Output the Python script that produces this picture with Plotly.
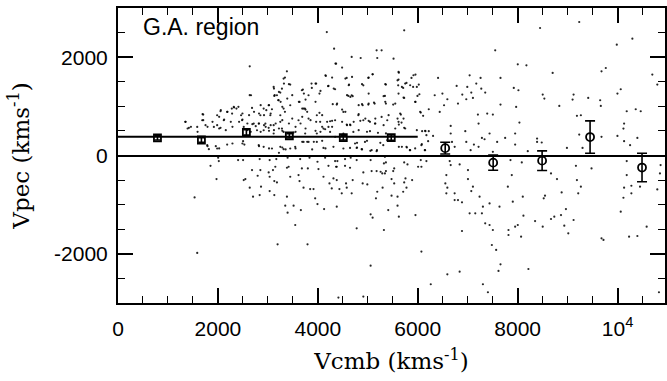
import plotly.graph_objects as go

# Binned means (squares: Vcmb < 6000; circles: Vcmb > 6000)
sq_vcmb = [790, 1670, 2570, 3430, 4510, 5470]
sq_vpec = [360, 315, 470, 400, 365, 365]
sq_err = [45, 45, 55, 45, 50, 55]

ci_vcmb = [6550, 7510, 8490, 9450, 10490]
ci_vpec = [150, -145, -105, 375, -245]
ci_err = [120, 155, 200, 330, 290]

# Mean infall line
line_vcmb = [0, 6000]
line_vpec = [380, 380]

# Individual galaxies (Vcmb, Vpec)
galaxies = [
    (4180, 2511), (4326, 2173), (4366, 1868), (4678, 2004), (4858, 1983), (5177, 2139), (5277, 2139),
    (5190, 1983), (2637, 1814), (3381, 1713), (4160, 1618), (5097, 1652), (5011, 1577), (4578, 1577),
    (5363, 1442), (4911, 1428), (4625, 1442), (4213, 1415), (4346, 1347), (3967, 1462), (3880, 1374),
    (3448, 1442), (3681, 1327), (3315, 1564), (3282, 1360), (3116, 1394), (3249, 1279), (3182, 1225),
    (3129, 1212), (3215, 1124), (2663, 1225), (3814, 1225), (4033, 1259), (4612, 1212), (4678, 1225),
    (5343, 1212), (4379, 1036), (4898, 1022), (5011, 1036), (5124, 1076), (5363, 1056), (3634, 1090),
    (3448, 1022), (3016, 1022), (2916, 954), (3082, 941), (3315, 954), (3249, 819), (3049, 819),
    (2850, 819), (2683, 968), (2318, 988), (2371, 954), (2185, 887), (2052, 900), (1985, 819),
    (1706, 833), (2284, 853), (2464, 819), (2484, 717), (2717, 650), (2817, 650), (2950, 650),
    (3016, 562), (3116, 616), (3249, 684), (3282, 548), (3614, 717), (3814, 751), (3714, 954),
    (3980, 819), (4047, 684), (4246, 697), (4346, 717), (4113, 548), (4213, 582), (4512, 887),
    (4579, 630), (4645, 630), (4811, 819), (4911, 717), (5044, 684), (5144, 650), (5277, 785),
    (5390, 717), (4712, 480), (5044, 494), (2118, 717), (1985, 616), (2052, 562), (1919, 582),
    (1752, 616), (1686, 717), (1420, 562), (1353, 684), (1586, 582), (2517, 582), (2584, 514),
    (2783, 514), (2916, 514), (3116, 447), (3315, 480), (3514, 467), (3747, 447), (3980, 447),
    (4147, 534), (4246, 480), (4512, 447), (4346, 379),
    (1786, 210), (1985, 142), (1819, 128), (2185, 223), (2504, 291), (2530, 223), (2817, 210),
    (2916, 176), (3082, 142), (3249, 176), (3315, 128), (3448, 142), (3547, 176), (3714, 277),
    (3814, 277), (3980, 277), (4113, 155), (4313, 176), (4512, 142), (4645, 155), (4745, 244),
    (4778, 155), (4878, 128), (4944, 277), (5077, 108), (5177, 88), (5310, 210), (5390, 311),
    (3342, 1585), (3322, 1463), (3422, 1450), (3122, 1361), (3222, 1294), (3209, 1125), (3255, 1091),
    (3136, 1226), (3289, 989), (3342, 888), (3488, 1226), (3388, 1158), (3621, 1091), (3721, 1260),
    (3741, 955), (3787, 888), (2637, 1226), (2856, 1023), (2969, 922), (3023, 1023), (3056, 854),
    (2923, 820), (2823, 854), (2723, 888), (2624, 820), (2491, 854), (2411, 989), (2324, 976),
    (2278, 955), (2191, 888), (2058, 922), (2025, 786), (2125, 732), (2258, 685), (2291, 583),
    (2424, 685), (2491, 732), (2590, 651), (2690, 637), (2757, 597), (2823, 651), (2923, 617),
    (2956, 583), (3056, 617), (3156, 651), (3122, 515), (3222, 549), (3289, 718), (3422, 651),
    (3488, 752), (3554, 583), (3654, 651), (3754, 549), (1693, 840), (1706, 718), (1892, 685),
    (1792, 583), (1393, 549), (1460, 583), (1347, 685), (1593, 481), (2025, 549), (2158, 515),
    (2657, 481), (2856, 481), (3023, 502), (3289, 502), (3554, 481),
    (1792, 190), (1958, 190), (2025, 143), (2291, 244), (2491, 244), (2823, 190), (3023, 143),
    (3289, 163), (3355, 123), (3554, 143), (3222, 55),
    (4353, 1869), (4486, 1788), (4153, 1632), (4286, 1585), (4552, 1565), (4685, 1598), (5018, 1585),
    (5097, 1653), (5616, 1700), (5915, 1632), (5616, 1544), (5749, 1463), (3874, 1463), (3954, 1463),
    (4206, 1409), (4319, 1362), (4619, 1429), (4885, 1450), (5350, 1450), (5683, 1395), (5849, 1429),
    (5982, 1395), (3701, 1341), (4053, 1314), (4585, 1226), (4652, 1192), (4698, 1206), (5018, 1260),
    (5317, 1206), (5616, 1260), (6033, 1246), (3754, 1138), (3954, 1091), (4299, 1043), (4386, 1057),
    (4818, 1023), (4885, 1043), (5018, 1057), (5138, 1057), (5350, 1091), (5550, 1057), (5716, 1179),
    (5949, 1091), (3688, 955), (3754, 935), (4033, 867), (4087, 820), (4486, 935), (4552, 888),
    (4818, 840), (4951, 752), (5151, 752), (5417, 820), (5649, 854), (6049, 888), (3688, 786),
    (3854, 718), (3967, 685), (4186, 685), (4286, 705), (4486, 685), (4718, 685), (4851, 705),
    (5018, 705), (5151, 651), (5317, 617), (5616, 685), (5716, 752), (4087, 583), (4286, 583),
    (4585, 617), (4652, 617), (4818, 515), (4985, 481), (5204, 461), (5364, 448), (5550, 549),
    (5749, 549), (5982, 515), (6148, 502), (3954, 502), (4053, 481),
    (3688, 278), (3787, 278), (3920, 278), (4087, 299), (4785, 258), (4985, 299), (5251, 258),
    (3887, 123), (4153, 143), (4785, 163), (4885, 123), (5051, 96), (5184, 109), (5683, 177),
    (5782, 163), (5849, 109), (5949, 143), (6148, 109), (6082, 231),
    (5729, 2545), (5516, 1970), (8449, 2593), (9233, 2715), (10297, 2376), (9985, 2254), (7551, 2139),
    (8003, 1855), (8176, 1834), (9765, 1780), (9679, 1713), (8701, 1679), (10696, 1645), (10796, 1442),
    (5622, 1685), (5596, 1530), (5875, 1577), (5955, 1645), (5775, 1476), (5609, 1428), (5709, 1374),
    (5908, 1394), (6021, 1442), (6407, 1577), (7039, 1631), (7258, 1577), (7657, 1577), (6779, 1415),
    (6992, 1394), (7172, 1462), (7272, 1360), (7923, 1374), (8016, 1327), (10064, 1347), (9998, 1259),
    (7072, 1279), (7351, 1279), (5729, 1171), (5995, 1212), (6340, 1225), (6494, 1259), (6892, 1239),
    (7105, 1171), (6972, 1144), (6806, 1056), (6593, 1144), (6527, 1022), (5955, 1090), (8502, 1239),
    (8535, 1157), (9120, 1239), (9100, 1137), (9413, 1171), (9652, 1124), (9665, 1009), (7657, 1036),
    (7970, 988), (8834, 1009), (5509, 1036), (6221, 941), (6440, 887), (6061, 873), (5662, 833),
    (6108, 806), (7205, 833), (7391, 853), (7504, 833), (10184, 900), (10364, 941), (10464, 900),
    (5596, 751), (5676, 670), (5622, 630), (9187, 806), (9266, 819), (10131, 650), (6660, 602),
    (7218, 650), (8036, 670), (5729, 562), (6088, 494), (6154, 494), (6221, 494), (10118, 548),
    (6174, 413), (6307, 399), (6660, 447), (6952, 494), (7438, 447), (7285, 358), (7338, 331),
    (7750, 358), (7950, 447), (7950, 223), (9233, 426), (9679, 379), (9998, 399), (10397, 358),
    (10131, 291), (10251, 210), (6208, 291), (6074, 210), (6686, 277), (6972, 277), (7125, 223),
    (7218, 176), (7590, 277), (8389, 345), (8389, 277), (8482, 264), (8203, 88), (8987, 155),
    (9299, 155), (5622, 176), (5775, 176), (5842, 108), (6141, 108), (6740, 176), (7059, 108),
    (7504, 74),
    (2005, -46), (2018, -114), (2404, -94), (2504, -94), (2836, -73), (3036, -94), (3169, -73),
    (3395, -46), (3647, -73), (3834, -46), (3993, -127), (4146, -46), (4346, -114), (4392, -114),
    (4545, -73), (4658, -46), (4778, -94), (5057, -94), (5343, -26), (5363, -141), (1852, -209),
    (1972, -479), (1533, -852), (1586, -1982), (2517, -500), (2550, -479), (2683, -297), (2850, -297),
    (3016, -344), (3102, -297), (3149, -229), (2796, -412), (3036, -432), (3129, -520), (3182, -547),
    (2637, -655), (2863, -635), (3036, -723), (3129, -804), (2703, -838), (2836, -804), (3415, -229),
    (3448, -432), (3614, -398), (3681, -263), (3800, -263), (4013, -276), (4213, -209), (4366, -229),
    (4545, -209), (4645, -249), (3634, -520), (3714, -655), (3847, -683), (3914, -683), (3382, -838),
    (3348, -1021), (3515, -1021), (3395, -1163), (3661, -1109), (3548, -1414), (3195, -1806),
    (3794, -1806), (3947, -872), (3993, -987), (4126, -1089), (4113, -432), (4233, -567), (4313, -466),
    (4379, -500), (4279, -669), (4432, -683), (4479, -770), (4565, -567), (4579, -655), (4678, -770),
    (4698, -500), (4898, -567), (4911, -344), (4991, -588), (5077, -317), (5177, -317), (5257, -330),
    (5290, -364), (5343, -364), (5363, -317), (4379, -1041), (4379, -229), (5190, -737), (5164, -872),
    (5297, -655), (5323, -161), (5410, -1109), (5057, -1197), (5097, -1265), (4778, -1481),
    (5323, -1515), (5057, -2240), (4412, -2890), (4911, -2869), (3382, -249),
    (5729, -141), (5795, -182), (5529, -263), (5509, -317), (5476, -479), (5529, -567), (5755, -466),
    (5729, -547), (5888, -500), (5775, -655), (5709, -737), (5476, -818), (5596, -838), (5596, -1021),
    (5622, -1244), (5955, -1211), (6008, -229), (6074, -229), (6061, -94), (6174, -114), (6640, -114),
    (6660, -195), (6839, -182), (7006, -297), (6573, -398), (6553, -567), (6593, -655), (6573, -770),
    (6739, -770), (6739, -906), (6806, -906), (6886, -953), (7006, -479), (7105, -635), (7072, -723),
    (7238, -838), (7305, -1041), (7438, -974), (7637, -1041), (7039, -1177), (7152, -1177),
    (7285, -1177), (7351, -1380), (7438, -1414), (7504, -1515), (6886, -1536), (7804, -635),
    (7883, -398), (7857, -94), (8083, -141), (7903, -940), (8103, -838), (8116, -1224), (7817, -1515),
    (7817, -1617), (7950, -1448), (8003, -1414), (8069, -1651), (8349, -1333), (8502, -1448),
    (8522, -872), (8548, -818), (8668, -364), (8788, -479), (8881, -750), (8668, -1292), (8734, -1244),
    (8868, -1211), (8967, -1089), (8934, -1427), (9120, -1312), (9014, -1583), (9167, -209),
    (9187, -500), (9266, -635), (9213, -770), (9479, -263), (9679, -1685), (9718, -1718),
    (10064, -1143), (10118, -859), (10131, -655), (10184, -398), (10184, -114), (10277, -615),
    (10277, -770), (10450, -635), (10231, -1651), (10397, -1637), (10583, -1448), (10796, -689),
    (10849, -364), (10862, -195), (6074, -1955), (6593, -2416), (6839, -2362), (6261, -2619),
    (7484, -1820), (7570, -1921), (7657, -2213), (7617, -2348), (8216, -2308), (7305, -2619),
    (7405, -2781), (10829, -2781),
]
gal_vcmb = [g[0] for g in galaxies]
gal_vpec = [g[1] for g in galaxies]

x_ticks = [0, 2000, 4000, 6000, 8000, 10000]
x_ticktext = ["0", "2000", "4000", "6000", "8000", "10<sup>4</sup>"]
y_ticks = [-2000, 0, 2000]
y_ticktext = ["-2000", "0", "2000"]

fig = go.Figure()
fig.add_trace(go.Scatter(x=gal_vcmb, y=gal_vpec, mode="markers",
                         marker=dict(size=2.2, color="black", opacity=0.85),
                         hoverinfo="skip"))
fig.add_trace(go.Scatter(x=line_vcmb, y=line_vpec, mode="lines",
                         line=dict(color="black", width=2)))
fig.add_trace(go.Scatter(x=sq_vcmb, y=sq_vpec, mode="markers",
                         marker=dict(symbol="square-open", size=7, color="black",
                                     line=dict(width=1.8)),
                         error_y=dict(type="data", array=sq_err, color="black",
                                      thickness=1.6, width=3)))
fig.add_trace(go.Scatter(x=ci_vcmb, y=ci_vpec, mode="markers",
                         marker=dict(symbol="circle-open", size=8, color="black",
                                     line=dict(width=1.8)),
                         error_y=dict(type="data", array=ci_err, color="black",
                                      thickness=1.6, width=5)))

fig.add_annotation(x=0.042, y=0.985, xref="paper", yref="paper", text="G.A. region",
                   showarrow=False, xanchor="left", yanchor="top",
                   font=dict(family="Liberation Sans, Arial, sans-serif", size=23, color="black"))

axis_common = dict(showgrid=False, showline=True, linecolor="black", linewidth=2,
                   mirror="allticks", ticks="inside", ticklen=15, tickwidth=1.5,
                   tickcolor="black",
                   tickfont=dict(family="Liberation Sans, Arial, sans-serif", size=21, color="black"))

fig.update_xaxes(range=[0, 10950], tickmode="array", tickvals=x_ticks, ticktext=x_ticktext,
                 zeroline=False, ticklabelstandoff=6,
                 minor=dict(dtick=500, ticks="inside", ticklen=7, tickwidth=1.3, tickcolor="black"),
                 title=dict(text="Vcmb (kms<sup>-1</sup>)", standoff=14,
                            font=dict(family="DejaVu Serif, serif", size=23, color="black")),
                 **axis_common)
fig.update_yaxes(range=[-3000, 3000], tickmode="array", tickvals=y_ticks, ticktext=y_ticktext,
                 zeroline=True, zerolinecolor="black", zerolinewidth=2, ticklabelstandoff=4,
                 minor=dict(dtick=500, ticks="inside", ticklen=7, tickwidth=1.3, tickcolor="black"),
                 title=dict(text="Vpec (kms<sup>-1</sup>)", standoff=18,
                            font=dict(family="DejaVu Serif, serif", size=23, color="black")),
                 **axis_common)

fig.update_layout(width=667, height=381, showlegend=False,
                  plot_bgcolor="white", paper_bgcolor="white",
                  margin=dict(l=118, r=0, t=8, b=78))

fig.write_html("out.html")
